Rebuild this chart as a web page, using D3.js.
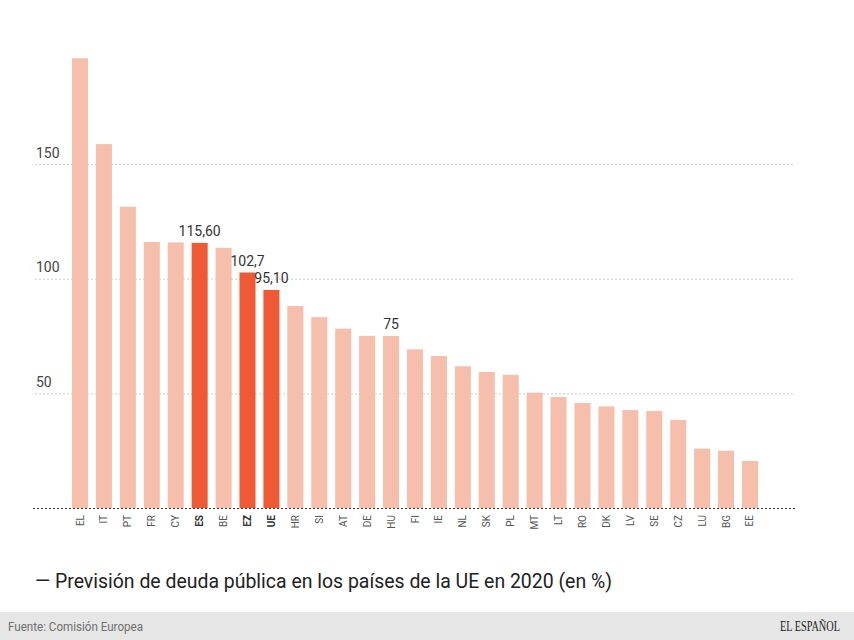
<!DOCTYPE html>
<html>
<head>
<meta charset="utf-8">
<script src="https://cdn.jsdelivr.net/npm/d3@7"></script>
<style>
  body { margin: 0; background: #fff; }
  text { font-family: Roboto, "Noto Sans", sans-serif; }
</style>
</head>
<body>
<svg id="chart" width="854" height="640"></svg>
<script>
// data
var countries = ["EL","IT","PT","FR","CY","ES","BE","EZ","UE","HR","SI","AT","DE","HU","FI",
                 "IE","NL","SK","PL","MT","LT","RO","DK","LV","SE","CZ","LU","BG","EE"];
var debt = [196.1, 158.7, 131.4, 116.0, 115.8, 115.6, 113.5, 102.7, 95.1, 88.1, 83.2, 78.2, 75.1, 75.0, 69.2,
            66.3, 61.8, 59.3, 58.1, 50.3, 48.4, 45.8, 44.3, 42.7, 42.3, 38.4, 25.9, 25.0, 20.5];
var highlight = ["ES", "EZ", "UE"];
var valueLabels = { ES: "115,60", EZ: "102,7", UE: "95,10", HU: "75" };
var yTicks = [50, 100, 150];

var title = "\u2014 Previsión de deuda pública en los países de la UE en 2020 (en %)";
var source = "Fuente: Comisión Europea";

var svg = d3.select("#chart");

var y = d3.scaleLinear().domain([0, 200]).range([508, 49.4]);
var x = d3.scaleBand().domain(countries).range([72, 758]).paddingInner(0.33).paddingOuter(0);

// gridlines + tick labels
var yAxis = svg.append("g")
  .attr("transform", "translate(35,0)")
  .call(d3.axisRight(y).tickValues(yTicks).tickSize(760).tickFormat(d3.format("d")));
yAxis.select(".domain").remove();
yAxis.selectAll("line")
  .attr("stroke", "#cfcfcf")
  .attr("stroke-dasharray", "2,2");
yAxis.selectAll("text")
  .attr("x", 1)
  .attr("dy", "-0.5em")
  .attr("fill", "#444")
  .style("font-size", "14px")
  .style("font-family", "Roboto, sans-serif");

// bars
svg.append("g").selectAll("rect")
  .data(countries)
  .enter().append("rect")
  .attr("x", function(d) { return x(d); })
  .attr("width", x.bandwidth())
  .attr("y", function(d, i) { return y(debt[i]); })
  .attr("height", function(d, i) { return y(0) - y(debt[i]); })
  .attr("fill", function(d) { return highlight.indexOf(d) >= 0 ? "#ee5a36" : "#f6bfab"; });

// baseline
svg.append("line")
  .attr("x1", 33).attr("x2", 795)
  .attr("y1", y(0) + 0.5).attr("y2", y(0) + 0.5)
  .attr("stroke", "#333")
  .attr("stroke-dasharray", "2,2");

// value labels
svg.append("g").selectAll("text")
  .data(countries.filter(function(d) { return valueLabels[d]; }))
  .enter().append("text")
  .attr("x", function(d) { return x(d) + x.bandwidth() / 2; })
  .attr("y", function(d) { return y(debt[countries.indexOf(d)]) - 7; })
  .attr("text-anchor", "middle")
  .attr("fill", "#333")
  .style("font-size", "14px")
  .text(function(d) { return valueLabels[d]; });

// x labels
svg.append("g").selectAll("text")
  .data(countries)
  .enter().append("text")
  .attr("transform", function(d) { return "translate(" + (x(d) + x.bandwidth() / 2) + ",515)rotate(-90)"; })
  .attr("text-anchor", "end")
  .attr("dy", "0.35em")
  .attr("fill", function(d) { return highlight.indexOf(d) >= 0 ? "#333" : "#555"; })
  .style("font-size", "10px")
  .style("font-weight", function(d) { return highlight.indexOf(d) >= 0 ? "bold" : "normal"; })
  .text(function(d) { return d; });

// title
svg.append("text")
  .attr("x", 35).attr("y", 588)
  .attr("fill", "#222")
  .attr("textLength", 577)
  .attr("lengthAdjust", "spacingAndGlyphs")
  .style("font-size", "21px")
  .text(title);

// footer band
svg.append("rect")
  .attr("x", 0).attr("y", 612)
  .attr("width", 854).attr("height", 28)
  .attr("fill", "#e6e6e6");
svg.append("text")
  .attr("x", 8).attr("y", 631)
  .attr("fill", "#6f6f6f")
  .attr("textLength", 135)
  .attr("lengthAdjust", "spacingAndGlyphs")
  .style("font-size", "12px")
  .text(source);

// logo, squeezed horizontally like the condensed serif in the original
var logo = svg.append("text")
  .attr("fill", "#222")
  .style("font-family", "'Liberation Serif', 'DejaVu Serif', serif")
  .style("font-size", "15px")
  .text("EL ESPAÑOL");
var lw = logo.node().getComputedTextLength();
logo.attr("transform", "translate(780,631)scale(" + (60 / lw) + ",1)");
</script>
</body>
</html>
